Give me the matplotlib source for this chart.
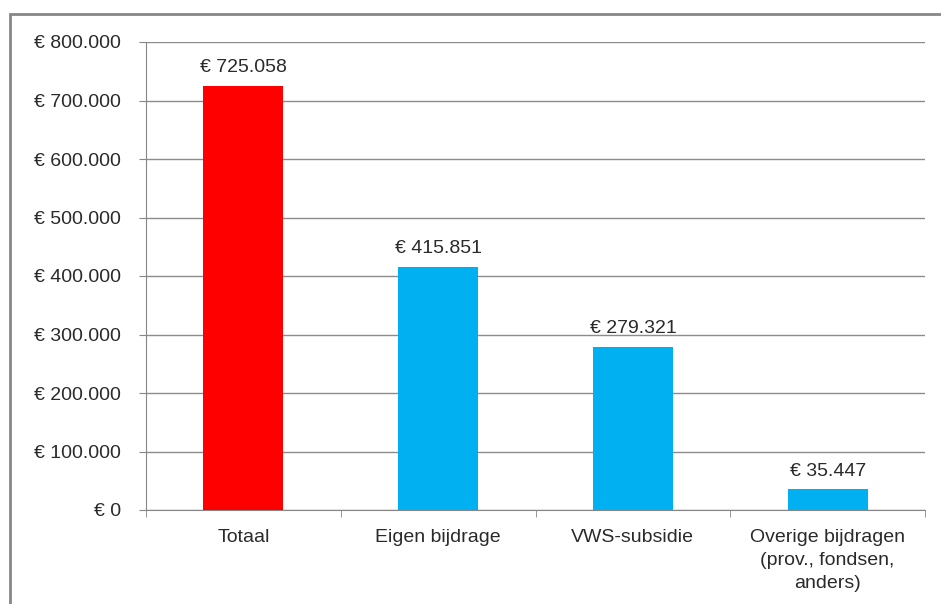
import matplotlib.pyplot as plt
from matplotlib.patches import Rectangle
from matplotlib.ticker import FuncFormatter, FixedLocator

plt.rcParams['font.family'] = ['Liberation Sans', 'DejaVu Sans']

# Data
categories = ["Totaal", "Eigen bijdrage", "VWS-subsidie",
              "Overige bijdragen\n(prov., fondsen,\nanders)"]
values = [725058, 415851, 279321, 35447]
colors = ["#FF0000", "#00B0F0", "#00B0F0", "#00B0F0"]


def euro(v, pos=None):
    return "€ " + f"{int(round(v)):,}".replace(",", ".")


fig = plt.figure(figsize=(9.41, 6.04), dpi=100)
ax = fig.add_axes([146 / 941, 1 - 510 / 604, (925 - 146) / 941, (510 - 42) / 604])

# outer chart border
fig.patches.append(Rectangle((9.5 / 941, -0.05), 1.2, 1 - 13.5 / 604 + 0.05,
                             transform=fig.transFigure, fill=False,
                             edgecolor="#868686", linewidth=2, zorder=0))

x = range(len(categories))
bars = ax.bar(x, values, width=0.41, color=colors, zorder=3)

for b, v in zip(bars, values):
    ax.annotate(euro(v), (b.get_x() + b.get_width() / 2, v),
                xytext=(0, 7), textcoords="offset points",
                ha="center", va="bottom", fontsize=14, color="#2a2a2a")

ax.set_xlim(-0.5, len(categories) - 0.5)
ax.set_ylim(0, 800000)
ax.yaxis.set_major_locator(FixedLocator(range(0, 800001, 100000)))
ax.yaxis.set_major_formatter(FuncFormatter(euro))
ax.grid(axis="y", color="#8c8c8c", linewidth=1, zorder=0)

ax.set_xticks(list(x))
ax.set_xticklabels(categories, fontsize=14, color="#2a2a2a", linespacing=1.45)
ax.tick_params(axis="x", length=0, pad=14)
ax.set_xticks([i - 0.5 for i in range(len(categories) + 1)], minor=True)
ax.tick_params(axis="x", which="minor", length=5, color="#868686")
ax.tick_params(axis="y", length=5, color="#868686", labelsize=14,
               labelcolor="#2a2a2a", pad=13)

for s in ["top", "right"]:
    ax.spines[s].set_visible(False)
for s in ["left", "bottom"]:
    ax.spines[s].set_color("#868686")

fig.savefig("out.png", dpi=100)
